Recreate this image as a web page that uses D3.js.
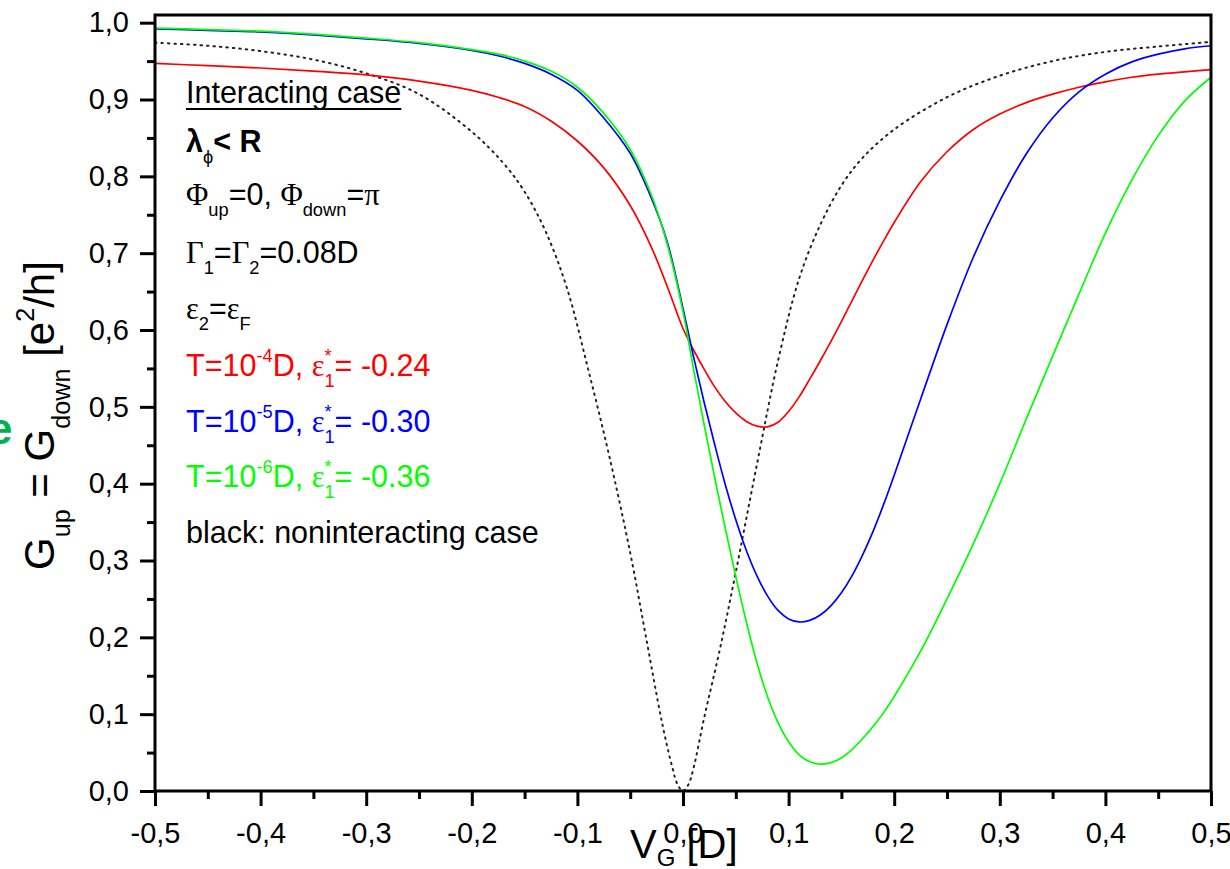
<!DOCTYPE html>
<html>
<head>
<meta charset="utf-8">
<script src="https://cdn.jsdelivr.net/npm/d3@7"></script>
<style>
  body { margin: 0; background: #fff; }
  svg text { white-space: pre; }
</style>
</head>
<body>
<svg id="chart" width="1230" height="869"></svg>
<script>
// grid of gate voltages (units of D) shared by the interacting curves
const vGrid = [-0.5, -0.45, -0.4, -0.35, -0.3, -0.25, -0.2, -0.175, -0.15, -0.125, -0.1, -0.075, -0.05, -0.03, -0.015,
    0, 0.01, 0.02, 0.03, 0.04, 0.05, 0.06, 0.07, 0.08, 0.09, 0.1, 0.11, 0.12, 0.13, 0.14, 0.15, 0.16, 0.17, 0.18, 0.19,
    0.2, 0.225, 0.25, 0.275, 0.3, 0.325, 0.35, 0.375, 0.4, 0.425, 0.45, 0.475, 0.5];

const redG = [0.947, 0.944, 0.941, 0.937, 0.932, 0.924, 0.912, 0.903, 0.891, 0.872, 0.846, 0.811, 0.762, 0.708, 0.657,
    0.602, 0.574, 0.549, 0.526, 0.507, 0.492, 0.481, 0.475, 0.474, 0.480, 0.494, 0.513, 0.536, 0.560, 0.585, 0.611, 0.638, 0.665, 0.691, 0.716,
    0.740, 0.793, 0.832, 0.861, 0.881, 0.896, 0.907, 0.916, 0.923, 0.929, 0.933, 0.936, 0.939];

const blueG = [0.992, 0.990, 0.988, 0.984, 0.979, 0.973, 0.964, 0.957, 0.947, 0.933, 0.912, 0.876, 0.830, 0.772, 0.715,
    0.628, 0.565, 0.506, 0.451, 0.399, 0.353, 0.313, 0.280, 0.254, 0.235, 0.224, 0.220, 0.222, 0.229, 0.241, 0.258, 0.280, 0.307, 0.338, 0.373,
    0.411, 0.510, 0.607, 0.695, 0.768, 0.829, 0.876, 0.910, 0.933, 0.949, 0.959, 0.966, 0.970];

const greenG = [0.993, 0.991, 0.989, 0.985, 0.980, 0.974, 0.965, 0.959, 0.950, 0.937, 0.916, 0.882, 0.835, 0.776, 0.712,
    0.624, 0.549, 0.477, 0.408, 0.342, 0.279, 0.220, 0.167, 0.123, 0.089, 0.064, 0.047, 0.038, 0.035, 0.037, 0.043, 0.054, 0.068, 0.084, 0.102,
    0.123, 0.182, 0.250, 0.322, 0.400, 0.484, 0.566, 0.647, 0.726, 0.795, 0.853, 0.898, 0.929];

// noninteracting case (black dotted)
const blackV = [-0.5, -0.45, -0.4, -0.35, -0.3, -0.25, -0.2, -0.17, -0.15, -0.13, -0.11, -0.09, -0.07, -0.05, -0.035, -0.02, -0.01, -0.005,
    0, 0.005, 0.01, 0.02, 0.035, 0.05, 0.07, 0.09, 0.11, 0.13, 0.15, 0.17, 0.2, 0.25, 0.3, 0.35, 0.4, 0.45, 0.5];
const blackG = [0.974, 0.970, 0.963, 0.952, 0.934, 0.907, 0.858, 0.817, 0.780, 0.728, 0.655, 0.550, 0.437, 0.310, 0.200, 0.090, 0.030, 0.008,
    0.0, 0.008, 0.030, 0.095, 0.185, 0.285, 0.425, 0.560, 0.667, 0.737, 0.788, 0.824, 0.861, 0.903, 0.931, 0.950, 0.962, 0.969, 0.975];

const xTicks = [-0.5, -0.4, -0.3, -0.2, -0.1, 0.0, 0.1, 0.2, 0.3, 0.4, 0.5];
const yTicks = [0.0, 0.1, 0.2, 0.3, 0.4, 0.5, 0.6, 0.7, 0.8, 0.9, 1.0];

const SANS = '"Liberation Sans", Arial, sans-serif';
const SERIF = '"Liberation Serif", "Times New Roman", serif';

const svg = d3.select('#chart');
svg.append('rect').attr('width', 1230).attr('height', 869).attr('fill', '#fff');

const plotLeft = 155, plotRight = 1211, plotTop = 15, plotBottom = 791;

const x = d3.scaleLinear().domain([-0.5, 0.5]).range([plotLeft, plotRight]);
const y = d3.scaleLinear().domain([0, 1.01]).range([plotBottom, plotTop]);

// comma decimals, plain hyphen for minus
const fmt = d => d3.format('.1f')(d).replace('.', ',').replace('\u2212', '-');

// curves
const line = d3.line()
    .x(d => x(d[0]))
    .y(d => y(d[1]))
    .curve(d3.curveCatmullRom.alpha(0.5));

const series = [
    { v: blackV, g: blackG, color: '#222', width: 2, dash: '1.5,5' },
    { v: vGrid, g: redG, color: '#ff0000', width: 1.7 },
    { v: vGrid, g: blueG, color: '#0000ff', width: 1.7 },
    { v: vGrid, g: greenG, color: '#00ff00', width: 1.7 }
];

series.forEach(s => {
    svg.append('path')
        .datum(s.v.map((v, i) => [v, s.g[i]]))
        .attr('d', line)
        .attr('fill', 'none')
        .attr('stroke', s.color)
        .attr('stroke-width', s.width)
        .attr('stroke-dasharray', s.dash || null)
        .attr('stroke-linecap', s.dash ? 'round' : 'butt');
});

// frame
svg.append('rect')
    .attr('x', plotLeft).attr('y', plotTop)
    .attr('width', plotRight - plotLeft).attr('height', plotBottom - plotTop)
    .attr('fill', 'none').attr('stroke', '#000').attr('stroke-width', 3);

// axes
const xMinor = d3.range(-0.45, 0.5, 0.1);
const yMinor = d3.range(0.05, 1.0, 0.1);

const xAxis = svg.append('g')
    .attr('transform', `translate(0, ${plotBottom})`)
    .call(d3.axisBottom(x).tickValues(xTicks).tickSize(15).tickPadding(16).tickFormat(fmt));
const xAxisMinor = svg.append('g')
    .attr('transform', `translate(0, ${plotBottom})`)
    .call(d3.axisBottom(x).tickValues(xMinor).tickSize(8).tickFormat(''));
const yAxis = svg.append('g')
    .attr('transform', `translate(${plotLeft}, 0)`)
    .call(d3.axisLeft(y).tickValues(yTicks).tickSize(15).tickPadding(11).tickFormat(fmt));
const yAxisMinor = svg.append('g')
    .attr('transform', `translate(${plotLeft}, 0)`)
    .call(d3.axisLeft(y).tickValues(yMinor).tickSize(8).tickFormat(''));

[xAxis, xAxisMinor, yAxis, yAxisMinor].forEach(a => {
    a.select('.domain').remove();
    a.selectAll('line').attr('stroke', '#000').attr('stroke-width', 3);
    a.selectAll('text')
        .attr('fill', '#000')
        .style('font-family', SANS)
        .style('font-size', '29px');
});

// text with sub/superscripts, pieces placed one after another
function richText(parent, x0, y0, parts, color, size, subDy) {
    let cx = x0;
    parts.forEach(p => {
        const [str, kind, fam] = p;
        let fs = size, dy = 0;
        if (kind === 'sub') { fs = size * 0.6; dy = subDy || size * 0.37; }
        if (kind === 'sup' || kind === 'sup0') { fs = size * 0.6; dy = -size * 0.47; }
        const t = parent.append('text')
            .attr('x', cx)
            .attr('y', y0 + dy)
            .attr('fill', color)
            .style('font-family', fam === 's' ? SERIF : SANS)
            .style('font-size', fs + 'px')
            .style('font-weight', kind === 'b' ? 'bold' : 'normal')
            .text(str);
        if (kind !== 'sup0') cx += t.node().getComputedTextLength();
    });
    return cx - x0;
}

// annotations
const ann = svg.append('g');
const ax = 186, aSize = 30.5;
const w1 = richText(ann, ax, 103, [['Interacting case']], '#000', aSize);
ann.append('line')
    .attr('x1', ax).attr('x2', ax + w1)
    .attr('y1', 109).attr('y2', 109)
    .attr('stroke', '#000').attr('stroke-width', 2);

richText(ann, ax, 152, [['λ', 'b'], ['ϕ', 'sub'], ['< R', 'b']], '#000', aSize);
richText(ann, ax, 205, [['Φ', 'n', 's'], ['up', 'sub'], ['=0, '], ['Φ', 'n', 's'], ['down', 'sub'], ['='], ['π', 'n', 's']], '#000', aSize);
richText(ann, ax, 263, [['Γ', 'n', 's'], ['1', 'sub'], ['='], ['Γ', 'n', 's'], ['2', 'sub'], ['=0.08D']], '#000', aSize);
richText(ann, ax, 319, [['ε', 'n', 's'], ['2', 'sub'], ['='], ['ε', 'n', 's'], ['F', 'sub']], '#000', aSize);

const tempLines = [
    { y: 376, exp: '-4', eps: '-0.24', color: '#ff0000' },
    { y: 432, exp: '-5', eps: '-0.30', color: '#0000ff' },
    { y: 487, exp: '-6', eps: '-0.36', color: '#00ff00' }
];
tempLines.forEach(l => {
    richText(ann, ax, l.y, [['T=10'], [l.exp, 'sup'], ['D, '], ['ε', 'n', 's'], ['*', 'sup0'], ['1', 'sub'], ['= ' + l.eps]], l.color, aSize);
});
richText(ann, ax, 543, [['black: noninteracting case']], '#000', aSize);

// axis titles
const yTitle = svg.append('g').attr('transform', 'translate(54, 570) rotate(-90)');
richText(yTitle, 0, 0, [['G'], ['up', 'sub'], [' = G'], ['down', 'sub'], [' [e'], ['2', 'sup'], ['/h]']], '#000', 42);

const xTitle = svg.append('g').attr('transform', 'translate(630, 858)');
richText(xTitle, 0, 0, [['V'], ['G', 'sub'], [' [D]']], '#000', 40, 8);

// cut-off green letter at the left edge
svg.append('text')
    .attr('x', -12).attr('y', 444)
    .attr('fill', '#00b050')
    .style('font-family', SANS)
    .style('font-size', '44px')
    .style('font-weight', 'bold')
    .text('e');
</script>
</body>
</html>
